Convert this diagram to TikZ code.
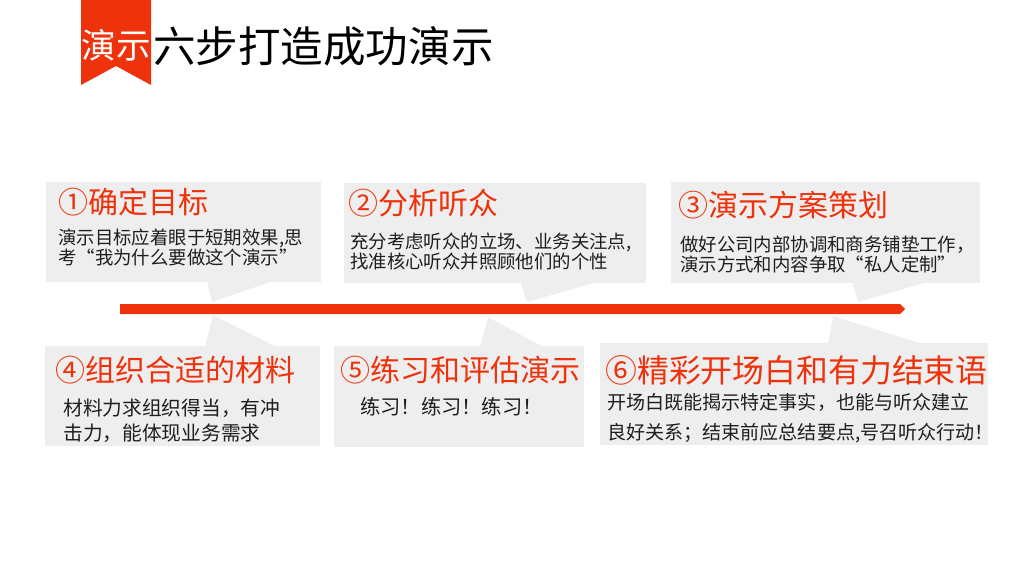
\documentclass[tikz,border=0pt]{standalone}
\usepackage{fontspec}
\setmainfont{Noto Sans CJK SC}
\definecolor{accent}{RGB}{238,50,12}
\definecolor{cardgray}{RGB}{238,238,238}
\definecolor{bodytext}{RGB}{30,30,30}
\tikzset{
  card/.style={fill=cardgray, anchor=north west, inner sep=0, minimum height=75pt},
  tail/.style={fill=cardgray},
  head/.style={anchor=west, inner sep=0, text=accent, font=\fontsize{22.5}{24}\selectfont},
  body/.style={anchor=west, inner sep=0, align=left, text=bodytext, font=\fontsize{13.8}{15}\selectfont},
}
\begin{document}
\begin{tikzpicture}[x=0.75pt, y=-0.75pt]
  \useasboundingbox (0,0) rectangle (1024,576);
  % title ribbon
  \fill[accent] (81,0) -- (151,0) -- (151,85) -- (116,66) -- (81,85) -- cycle;
  \node[inner sep=0, text=white, font=\fontsize{25.9}{27}\selectfont] (tag) at (116,45) {演示};
  \node[anchor=west, inner sep=0, font=\fontsize{31.9}{33}\selectfont] (title) at (153,46) {六步打造成功演示};
  % upper cards
  \node[card, minimum width=206.25pt] (card1) at (46,182) {};
  \node[card, minimum width=226.5pt]  (card2) at (344,183) {};
  \node[card, minimum width=231.75pt, minimum height=75.75pt] (card3) at (671,182) {};
  \fill[tail] (207,281) -- (212,302) -- (273,281) -- cycle;
  \fill[tail] (520,282) -- (527,302) -- (597,282) -- cycle;
  \fill[tail] (852,282) -- (858,302) -- (928,282) -- cycle;
  % lower cards
  \node[card, minimum width=206.25pt] (card4) at (45,346) {};
  \node[card, minimum width=187.5pt, minimum height=75.75pt] (card5) at (334,346) {};
  \node[card, minimum width=291pt, minimum height=76.5pt] (card6) at (600,343) {};
  \fill[tail] (205,347) -- (213,315) -- (277,347) -- cycle;
  \fill[tail] (480,347) -- (488,317) -- (543,347) -- cycle;
  \fill[tail] (828,344) -- (833,316) -- (923,344) -- cycle;
  % time line
  \coordinate (lineL) at (120,309);
  \coordinate (lineR) at (905,309);
  \fill[accent] (lineL) ++(0,-5) -- ++(780,0) -- (lineR) -- ++(-5,5) -- ++(-780,0) -- cycle;
  % texts
  \node[head] (h1) at (58,202) {①确定目标};
  \node[body] (b1) at (58,247) {演示目标应着眼于短期效果,思\\考“我为什么要做这个演示”};
  \node[head] (h2) at (348,203) {②分析听众};
  \node[body] (b2) at (350,251.5) {充分考虑听众的立场、业务关注点,\\找准核心听众并照顾他们的个性};
  \node[head] (h3) at (678,205) {③演示方案策划};
  \node[body] (b3) at (680,254.5) {做好公司内部协调和商务铺垫工作，\\演示方式和内容争取“私人定制”};
  \node[head] (h4) at (55,370) {④组织合适的材料};
  \node[body, font=\fontsize{14.8}{18.75}\selectfont] (b4) at (63,420.5) {材料力求组织得当，有冲\\击力，能体现业务需求};
  \node[head] (h5) at (340,370) {⑤练习和评估演示};
  \node[body, font=\fontsize{15.2}{18}\selectfont] (b5) at (360,407) {练习！练习！练习！};
  \node[head, font=\fontsize{23.9}{26}\selectfont] (h6) at (605,370) {⑥精彩开场白和有力结束语};
  \node[body, font=\fontsize{14.3}{22.5}\selectfont] (b6) at (607,418) {开场白既能揭示特定事实，也能与听众建立\\良好关系；结束前应总结要点,号召听众行动！};
\end{tikzpicture}
\end{document}
